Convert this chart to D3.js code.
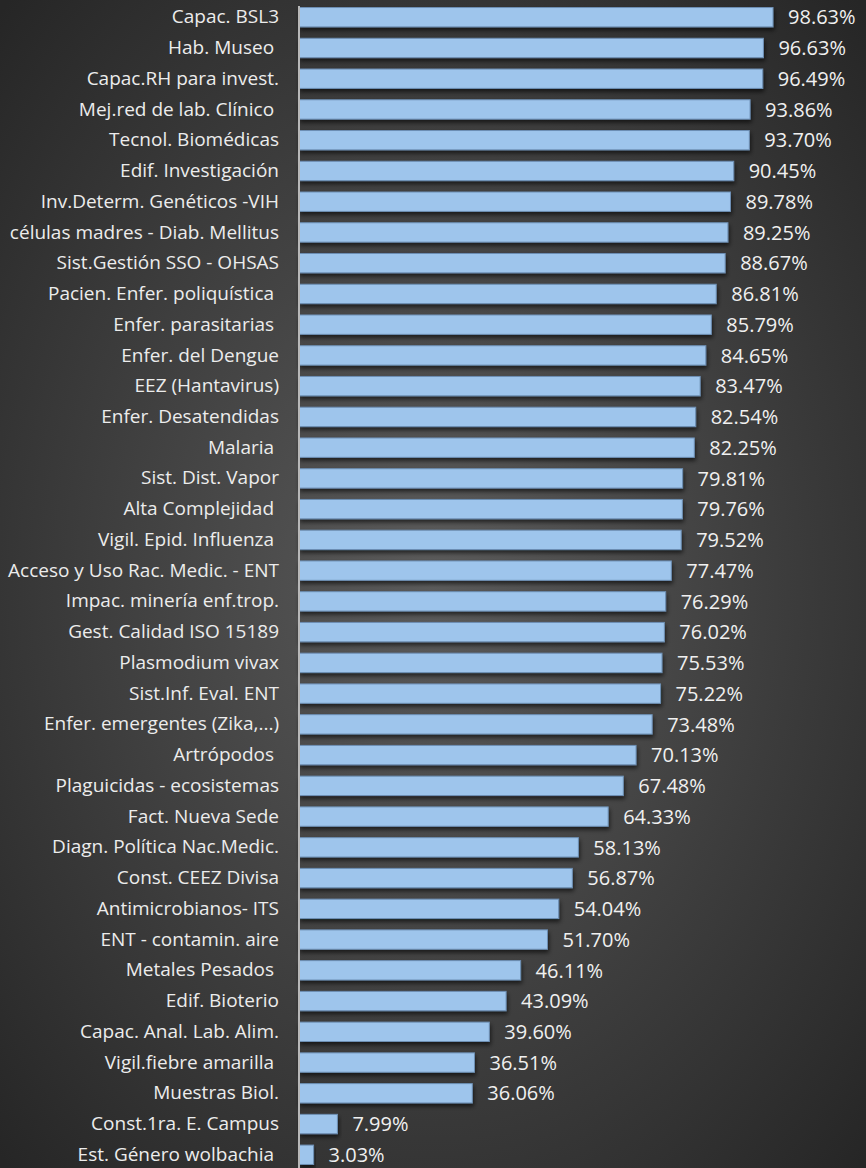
<!DOCTYPE html>
<html>
<head>
<meta charset="utf-8">
<script src="https://cdn.jsdelivr.net/npm/d3@7"></script>
<style>
  html, body { margin: 0; padding: 0; background: #2e2e2e; }
  svg { display: block; }
  text { white-space: pre; }
</style>
</head>
<body>
<div id="chart"></div>
<script>
const width = 866;
const height = 1168;
const margin = { top: 2, bottom: -2, left: 299, right: 40 };

// categories, top to bottom
const categories = [
  "Capac. BSL3", "Hab. Museo ", "Capac.RH para invest.", "Mej.red de lab. Clínico ",
  "Tecnol. Biomédicas", "Edif. Investigación", "Inv.Determ. Genéticos -VIH",
  "células madres - Diab. Mellitus", "Sist.Gestión SSO - OHSAS", "Pacien. Enfer. poliquística ",
  "Enfer. parasitarias ", "Enfer. del Dengue", "EEZ (Hantavirus)", "Enfer. Desatendidas",
  "Malaria ", "Sist. Dist. Vapor", "Alta Complejidad ", "Vigil. Epid. Influenza ",
  "Acceso y Uso Rac. Medic. - ENT", "Impac. minería enf.trop.", "Gest. Calidad ISO 15189",
  "Plasmodium vivax", "Sist.Inf. Eval. ENT", "Enfer. emergentes (Zika,...)", "Artrópodos ",
  "Plaguicidas - ecosistemas", "Fact. Nueva Sede", "Diagn. Política Nac.Medic.",
  "Const. CEEZ Divisa", "Antimicrobianos- ITS", "ENT - contamin. aire", "Metales Pesados ",
  "Edif. Bioterio", "Capac. Anal. Lab. Alim.", "Vigil.fiebre amarilla ", "Muestras Biol.",
  "Const.1ra. E. Campus", "Est. Género wolbachia "
];

// percentage values
const values = [
  98.63, 96.63, 96.49, 93.86, 93.70, 90.45, 89.78, 89.25, 88.67, 86.81,
  85.79, 84.65, 83.47, 82.54, 82.25, 79.81, 79.76, 79.52, 77.47, 76.29,
  76.02, 75.53, 75.22, 73.48, 70.13, 67.48, 64.33, 58.13, 56.87, 54.04,
  51.70, 46.11, 43.09, 39.60, 36.51, 36.06, 7.99, 3.03
];

const data = categories.map((c, i) => ({ cat: c, val: values[i] }));

const svg = d3.select("#chart")
  .append("svg")
  .attr("width", width)
  .attr("height", height)
  .attr("font-family", "'Open Sans', sans-serif");

const defs = svg.append("defs");

//background glow
const bg = defs.append("radialGradient").attr("id", "bg")
  .attr("cx", "50%").attr("cy", "50%").attr("r", "70%");
bg.append("stop").attr("offset", "0%").attr("stop-color", "#5b5b5b");
bg.append("stop").attr("offset", "100%").attr("stop-color", "#262626");

const shadow = defs.append("filter").attr("id", "shadow")
  .attr("x", "-5%").attr("y", "-30%").attr("width", "115%").attr("height", "190%");
shadow.append("feDropShadow")
  .attr("dx", 1).attr("dy", 3).attr("stdDeviation", 2)
  .attr("flood-color", "#000").attr("flood-opacity", 0.6);

svg.append("rect").attr("width", width).attr("height", height).attr("fill", "url(#bg)");

const x = d3.scaleLinear()
  .domain([0, 100])
  .range([margin.left, margin.left + 480.6]);

const y = d3.scaleBand()
  .domain(categories)
  .range([margin.top, height - margin.bottom])
  .paddingInner(0.37)
  .paddingOuter(0.18);

svg.append("g")
  .selectAll("rect")
  .data(data)
  .join("rect")
  .attr("x", x(0))
  .attr("y", d => y(d.cat))
  .attr("width", d => x(d.val) - x(0))
  .attr("height", y.bandwidth())
  .attr("fill", "#9ec5ec")
  .attr("stroke", "#6d8fb4")
  .attr("stroke-width", 1)
  .attr("filter", "url(#shadow)");

// category axis
const yAxis = svg.append("g")
  .attr("transform", `translate(${margin.left},0)`)
  .call(d3.axisLeft(y).tickSize(0).tickPadding(20));
yAxis.select(".domain")
  .attr("stroke", "#b8b8b8")
  .attr("stroke-width", 2)
  .attr("d", `M0,6V${height}`);
yAxis.selectAll("text")
  .attr("fill", "#ececec")
  .attr("font-size", 19)
  .attr("font-family", "'Open Sans', sans-serif");

// value labels
svg.append("g")
  .selectAll("text")
  .data(data)
  .join("text")
  .attr("x", d => x(d.val) + 15)
  .attr("y", d => y(d.cat) + y.bandwidth() / 2)
  .attr("dy", "0.36em")
  .attr("fill", "#f0f0f0")
  .attr("font-size", 20)
  .text(d => d.val.toFixed(2) + "%");
</script>
</body>
</html>
